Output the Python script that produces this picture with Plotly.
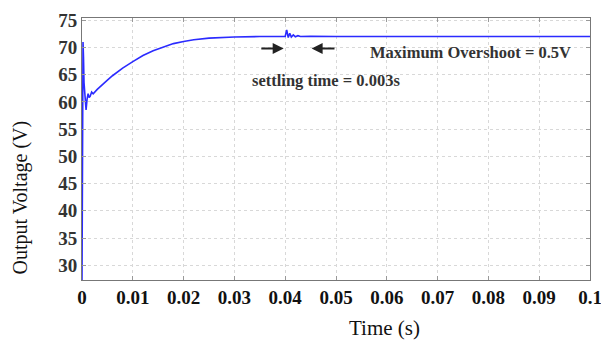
import plotly.graph_objects as go

# Output voltage response
time_s = [0, 0.0001, 0.0002, 0.0003, 0.0004, 0.0005, 0.0006, 0.0008, 0.001, 0.0012,
          0.0014, 0.0016, 0.0019, 0.0022, 0.003, 0.004, 0.005, 0.006, 0.008, 0.010,
          0.012, 0.014, 0.016, 0.018, 0.020, 0.022, 0.025, 0.028, 0.030, 0.035,
          0.040, 0.0403, 0.0406, 0.0409, 0.0412, 0.0416, 0.042, 0.0425, 0.043,
          0.045, 0.05, 0.1]
voltage_v = [27.3, 50, 71, 68, 63.5, 62, 60, 58.5, 60.5, 61.5,
             60.8, 61, 61.8, 61.5, 62.3, 63.2, 64.0, 64.8, 66.2, 67.4,
             68.5, 69.4, 70.1, 70.7, 71.1, 71.4, 71.7, 71.85, 71.9, 72.0,
             72.0, 73.2, 71.8, 72.6, 71.9, 72.3, 71.95, 72.15, 72.0,
             72.05, 72.0, 72.0]

x_ticks = [0, 0.01, 0.02, 0.03, 0.04, 0.05, 0.06, 0.07, 0.08, 0.09, 0.1]
x_ticktext = ["0", "0.01", "0.02", "0.03", "0.04", "0.05", "0.06", "0.07", "0.08", "0.09", "0.1"]
y_ticks = [30, 35, 40, 45, 50, 55, 60, 65, 70, 75]

SERIF = "Liberation Serif, Times New Roman, serif"

fig = go.Figure()
fig.add_trace(go.Scatter(x=time_s, y=voltage_v, mode="lines",
                         line=dict(color="#2b2bff", width=1.6), showlegend=False))

fig.update_layout(
    width=601, height=347,
    margin=dict(l=82, r=11, t=10, b=67),
    paper_bgcolor="white", plot_bgcolor="white",
    font=dict(family=SERIF, color="black"),
    xaxis=dict(range=[0, 0.1], tickvals=x_ticks, ticktext=x_ticktext,
               showgrid=True, gridcolor="#d8d8d8", griddash="dot",
               showline=True, linecolor="#777", mirror="ticks",
               ticks="inside", ticklen=4, tickcolor="#999",
               ticklabeloverflow="allow", automargin=False,
               tickfont=dict(family=SERIF, size=19, color="#111", weight="bold"),
               zeroline=False),
    yaxis=dict(range=[27.3, 75.4], tickvals=y_ticks,
               showgrid=True, gridcolor="#d8d8d8", griddash="dot",
               showline=True, linecolor="#777", mirror="ticks",
               ticks="inside", ticklen=4, tickcolor="#999",
               tickfont=dict(family=SERIF, size=19, color="#333", weight="bold"),
               zeroline=False),
)

# Axis titles (offset as in picture)
fig.add_annotation(text="Output Voltage (V)", xref="paper", yref="paper", x=-0.122, y=0.315,
                   xanchor="center", yanchor="middle",
                   textangle=-90, showarrow=False,
                   font=dict(family=SERIF, size=20, color="#111"))
fig.add_annotation(text="Time (s)", xref="paper", yref="paper", x=0.596, y=-0.185,
                   xanchor="center", yanchor="middle",
                   showarrow=False, font=dict(family=SERIF, size=21, color="#111"))

# Arrows
fig.add_annotation(x=0.0397, y=69.8, ax=0.0350, ay=69.8, xref="x", yref="y",
                   axref="x", ayref="y", showarrow=True, arrowhead=2, arrowsize=1,
                   arrowwidth=2.2, arrowcolor="#222", text="")
fig.add_annotation(x=0.0452, y=69.8, ax=0.0500, ay=69.8, xref="x", yref="y",
                   axref="x", ayref="y", showarrow=True, arrowhead=2, arrowsize=1,
                   arrowwidth=2.2, arrowcolor="#222", text="")

fig.add_annotation(text="<b>Maximum Overshoot = 0.5V</b>", x=0.0764, y=69.1,
                   xref="x", yref="y", showarrow=False,
                   font=dict(family=SERIF, size=16.5, color="#333"))
fig.add_annotation(text="<b>settling time = 0.003s</b>", x=0.0480, y=64.0,
                   xref="x", yref="y", showarrow=False,
                   font=dict(family=SERIF, size=16.5, color="#333"))

fig.write_html("out.html")
